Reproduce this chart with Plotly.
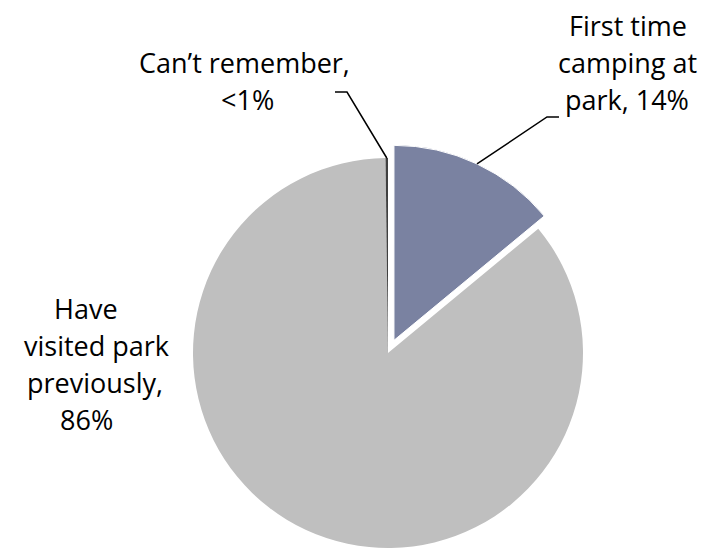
import math
import plotly.graph_objects as go

# Survey responses: camping experience at the park
categories = ["First time camping at park", "Have visited park previously", "Can\u2019t remember"]
shares = [14.0, 85.8, 0.2]
share_labels = ["14%", "86%", "<1%"]
colors = ["#7A82A1", "#BFBFBF", "#404040"]

# Label text, one entry per printed line
label_lines = {
    0: ["First time", "camping at", "park, 14%"],
    1: ["Have", "visited park", "previously,", "86%"],
    2: ["Can\u2019t remember,", "<1%"],
}

W, H = 707, 548
CX, CY, R = 388, 353, 195     # pie centre and radius in pixels
PULL_PX = 14                  # exploded offset of the first slice

total = sum(shares)


def mid_angle(i):
    """Clockwise angle from 12 o'clock to the middle of slice i (degrees)."""
    start = sum(shares[:i]) / total * 360
    return start + shares[i] / total * 360 / 2


def px_to_paper(x, y):
    return x / W, 1 - y / H


def domain_for(cx, cy, r):
    x0, y0 = px_to_paper(cx - r, cy + r)
    x1, y1 = px_to_paper(cx + r, cy - r)
    return dict(x=[x0, x1], y=[max(0.0, y0), min(1.0, y1)])


transparent = "rgba(0,0,0,0)"

# Offset of the exploded slice along its bisector
a0 = math.radians(mid_angle(0))
ex_cx = CX + PULL_PX * math.sin(a0)
ex_cy = CY - PULL_PX * math.cos(a0)

fig = go.Figure()

# Base pie: the two slices that stay in place
fig.add_trace(go.Pie(
    labels=categories, values=shares, sort=False, direction="clockwise",
    rotation=0, textinfo="none", hoverinfo="label+percent",
    marker=dict(colors=[transparent, colors[1], colors[2]],
                line=dict(width=0)),
    domain=domain_for(CX, CY, R), showlegend=False,
))

# Exploded slice drawn on its own, shifted outward
fig.add_trace(go.Pie(
    labels=categories, values=shares, sort=False, direction="clockwise",
    rotation=0, textinfo="none", hoverinfo="label+percent",
    marker=dict(colors=[colors[0], transparent, transparent],
                line=dict(width=[1, 0, 0], color="white")),
    domain=domain_for(ex_cx, ex_cy, R), showlegend=False,
))

FONT = dict(family="Open Sans, Noto Sans, sans-serif", size=27, color="#000000")
LINE_GAP = 37

# Label placement: (centre x for each line, baseline of first line)
label_layout = {
    0: ([628, 627, 627], 35),
    1: ([86, 96, 95, 86], 318),
    2: ([245, 247], 72),
}

annotations = []
for i, lines in label_lines.items():
    xs, base0 = label_layout[i]
    for k, (txt, lx) in enumerate(zip(lines, xs)):
        base = base0 + k * LINE_GAP
        px, py = px_to_paper(lx, base - 0.36 * FONT["size"])
        annotations.append(dict(
            text=txt, x=px, y=py, xref="paper", yref="paper",
            xanchor="center", yanchor="middle", showarrow=False, font=FONT,
        ))


def rim_point(i, cx, cy):
    a = math.radians(mid_angle(i))
    return cx + R * math.sin(a), cy - R * math.cos(a)


def leader(points):
    pts = [px_to_paper(x, y) for x, y in points]
    path = "M " + " L ".join(f"{x:.5f},{y:.5f}" for x, y in pts)
    return dict(type="path", path=path, xref="paper", yref="paper",
                line=dict(color="#000000", width=1.5))


shapes = [
    leader([rim_point(0, ex_cx, ex_cy), (547, 117), (559, 117)]),
    leader([rim_point(2, CX, CY), (347, 92), (335, 92)]),
]

fig.update_layout(
    width=W, height=H,
    margin=dict(l=0, r=0, t=0, b=0),
    paper_bgcolor="white", plot_bgcolor="white",
    annotations=annotations, shapes=shapes,
)

fig.write_html("out.html")
